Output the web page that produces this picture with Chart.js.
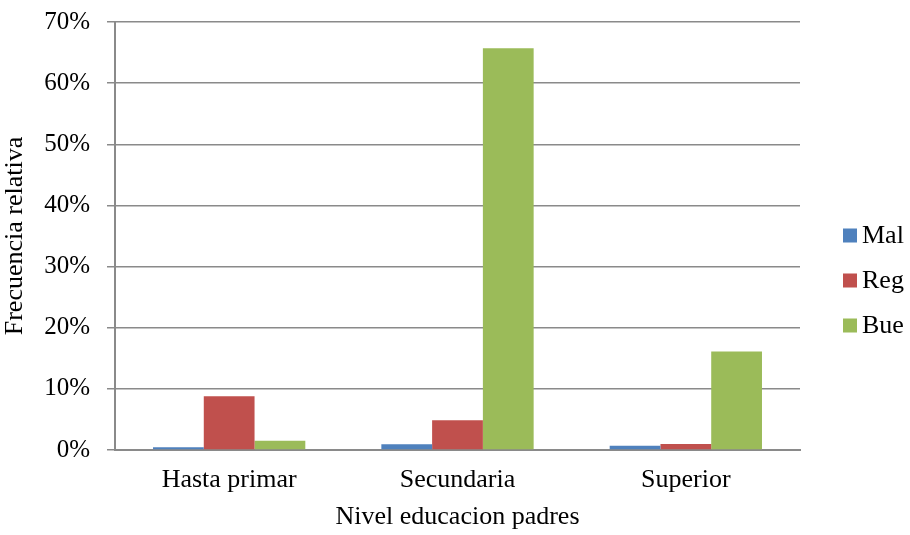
<!DOCTYPE html>
<html>
<head>
<meta charset="utf-8">
<script src="https://cdn.jsdelivr.net/npm/chart.js@4/dist/chart.umd.min.js"></script>
<style>
html,body{margin:0;padding:0;background:#fff;}
#wrap{width:910px;height:535px;position:relative;}
</style>
</head>
<body>
<div id="wrap"><canvas id="c" width="910" height="535"></canvas></div>
<script>
const categories = ["Hasta primar", "Secundaria", "Superior"];
const malValues = [0.45, 0.93, 0.7];
const regValues = [8.8, 4.85, 1.0];
const bueValues = [1.5, 65.7, 16.1];
const seriesNames = ["Mal", "Reg", "Bue"];
const seriesColors = ["#4F81BD", "#C0504D", "#9BBB59"];
const yTitle = "Frecuencia relativa";
const xTitle = "Nivel educacion padres";

const FONT = "'Liberation Serif', 'Times New Roman', serif";
const gridColor = "#8a8a8a";

const sideLegend = {
  id: 'sideLegend',
  afterDraw(chart) {
    const ctx = chart.ctx;
    const ds = chart.data.datasets;
    const spacing = 45;
    const midY = 280.5;
    const x0 = 843;
    ctx.save();
    ctx.font = "26px " + FONT;
    ctx.textBaseline = 'alphabetic';
    ctx.textAlign = 'left';
    ds.forEach((d, i) => {
      const cy = midY + (i - (ds.length - 1) / 2) * spacing;
      ctx.fillStyle = d.backgroundColor;
      ctx.fillRect(x0, cy - 7, 14, 14);
      ctx.fillStyle = '#000';
      ctx.fillText(d.label, x0 + 19, cy + 7.5);
    });
    ctx.restore();
  }
};

new Chart(document.getElementById('c'), {
  type: 'bar',
  data: {
    labels: categories,
    datasets: [
      {label: seriesNames[0], data: malValues, backgroundColor: seriesColors[0]},
      {label: seriesNames[1], data: regValues, backgroundColor: seriesColors[1]},
      {label: seriesNames[2], data: bueValues, backgroundColor: seriesColors[2]}
    ]
  },
  plugins: [sideLegend],
  options: {
    responsive: false,
    animation: false,
    devicePixelRatio: 1,
    layout: {padding: {top: 0, right: 110, left: 0, bottom: 2}},
    datasets: {bar: {categoryPercentage: 0.667, barPercentage: 1.0}},
    plugins: {
      legend: {display: false},
      tooltip: {enabled: false}
    },
    scales: {
      x: {
        grid: {display: false, drawTicks: false},
        border: {display: true, color: gridColor, width: 2},
        ticks: {color: '#000', font: {family: FONT, size: 26}, padding: 15},
        title: {display: true, text: xTitle, color: '#000', font: {family: FONT, size: 26}, padding: {top: 5, bottom: 0}},
        afterFit(scale) { scale.height = 83; }
      },
      y: {
        min: 0, max: 70,
        grid: {color: gridColor, lineWidth: 1.5, tickLength: 8, drawTicks: true},
        border: {display: true, color: gridColor, width: 2},
        ticks: {stepSize: 10, color: '#000', font: {family: FONT, size: 25}, padding: 17,
                callback: v => v + '%'},
        title: {display: true, text: yTitle, color: '#000', font: {family: FONT, size: 26}, padding: {top: 0, bottom: 13}},
        afterFit(scale) { scale.width = 115; scale.paddingTop = 22; scale.paddingBottom = 0; }
      }
    }
  }
});
</script>
</body>
</html>
